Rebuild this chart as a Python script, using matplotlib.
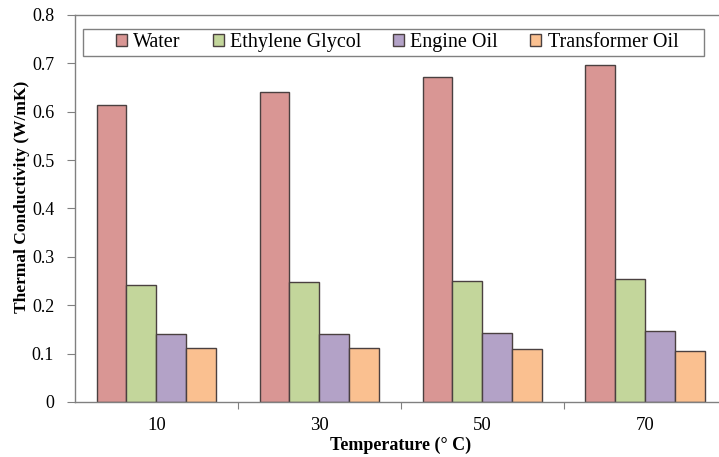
import matplotlib

matplotlib.use("Agg")
import matplotlib.pyplot as plt
from matplotlib.patches import Rectangle
import numpy as np

# 数据
temperatures = ["10", "30", "50", "70"]
water = [0.614, 0.641, 0.672, 0.697]
ethylene_glycol = [0.242, 0.247, 0.250, 0.254]
engine_oil = [0.140, 0.141, 0.143, 0.147]
transformer_oil = [0.112, 0.111, 0.110, 0.106]

series = [
    ("Water", water, "#D99694"),
    ("Ethylene Glycol", ethylene_glycol, "#C3D69B"),
    ("Engine Oil", engine_oil, "#B3A2C7"),
    ("Transformer Oil", transformer_oil, "#FAC090"),
]

plt.rcParams["font.family"] = ["Liberation Serif", "DejaVu Serif"]
axis_gray = "#808080"

fig = plt.figure(figsize=(7.19, 4.57), dpi=100)
ax = fig.add_axes([0.1043, 0.1204, 0.9068, 0.8468])

x = np.arange(len(temperatures))
width = 0.184
for i, (name, vals, color) in enumerate(series):
    ax.bar(x + (i - 1.5) * width, vals, width, color=color,
           edgecolor="#4a4040", linewidth=1.0, label=name)

ax.set_xlim(-0.5, 3.5)
ax.set_ylim(0, 0.8)
ax.set_yticks(np.arange(0, 0.81, 0.1))
ax.set_yticklabels(["0", "0.1", "0.2", "0.3", "0.4", "0.5", "0.6", "0.7", "0.8"])

# 类别之间的刻度线，标签放在类别中心
ax.set_xticks([0.5, 1.5, 2.5])
ax.set_xticklabels([])
ax.set_xticks(x, minor=True)
ax.set_xticklabels(temperatures, minor=True)
ax.tick_params(axis="x", which="major", direction="out", length=5, color=axis_gray)
ax.tick_params(axis="x", which="minor", length=0, pad=11, labelsize=13.5)
ax.tick_params(axis="y", direction="out", length=6, color=axis_gray, pad=9, labelsize=13)

for side in ["left", "bottom", "top"]:
    ax.spines[side].set_color(axis_gray)
    ax.spines[side].set_linewidth(1.0)
ax.spines["right"].set_visible(False)

ax.set_xlabel("Temperature (° C)", fontsize=13, fontweight="bold")
ax.xaxis.set_label_coords(0.5, -0.113)
ax.xaxis.label.set_va("center")
ax.set_ylabel("Thermal Conductivity (W/mK)", fontsize=12.5, fontweight="bold")
ax.yaxis.set_label_coords(-0.081, 0.53)
ax.yaxis.label.set_va("center")

# 图例内容居中，外框单独画(83..704 px, 29..56 px)
leg = ax.legend(loc="center", bbox_to_anchor=(0.5522, 0.907),
                bbox_transform=fig.transFigure, ncol=4, fontsize=14.5,
                frameon=False, handlelength=0.55, handleheight=0.55,
                handletextpad=0.3, columnspacing=1.6, borderpad=0.3)
frame = Rectangle((83 / 719, 1 - 56 / 457), 621 / 719, 27 / 457,
                  transform=fig.transFigure, facecolor="white",
                  edgecolor=axis_gray, linewidth=1.0, zorder=4, clip_on=False)
ax.add_patch(frame)
leg.set_zorder(5)

fig.savefig("out.png", dpi=100)
